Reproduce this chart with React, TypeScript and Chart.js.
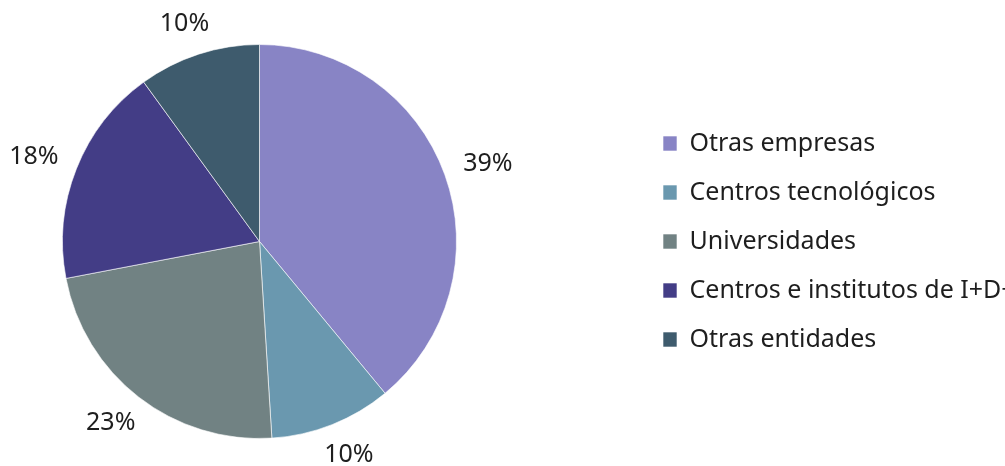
import React, { useEffect, useRef } from "react";
import { Chart, registerables } from "chart.js";

Chart.register(...registerables);

const categories = [
  "Otras empresas",
  "Centros tecnológicos",
  "Universidades",
  "Centros e institutos de I+D+i",
  "Otras entidades",
];
const shares = [39, 10, 23, 18, 10];
const sliceColors = ["#8884C5", "#6A98AF", "#718283", "#433D86", "#3E5B6D"];

const FONT = '"Noto Sans", "Open Sans", sans-serif';
const TEXT_COLOR = "#1e1e1e";

const outsideLabels = {
  id: "outsideLabels",
  afterDatasetsDraw(chart: any) {
    const ctx = chart.ctx;
    const meta = chart.getDatasetMeta(0);
    const data = chart.data.datasets[0].data as number[];
    ctx.save();
    ctx.font = `25px ${FONT}`;
    ctx.fillStyle = TEXT_COLOR;
    ctx.textAlign = "center";
    ctx.textBaseline = "middle";
    meta.data.forEach((arc: any, i: number) => {
      const { startAngle, endAngle, outerRadius, x, y } = arc.getProps(
        ["startAngle", "endAngle", "outerRadius", "x", "y"],
        true
      );
      const a = (startAngle + endAngle) / 2;
      const ux = Math.cos(a);
      const uy = Math.sin(a);
      const text = `${data[i]}%`;
      const w = ctx.measureText(text).width;
      const h = 22;
      const d = 21;
      const px = x + (outerRadius + d) * ux + (ux * w) / 2;
      const py = y + (outerRadius + d) * uy + (uy * h) / 2;
      ctx.fillText(text, px, py);
    });
    ctx.restore();
  },
};

export default function App() {
  const canvasRef = useRef<HTMLCanvasElement | null>(null);

  useEffect(() => {
    if (!canvasRef.current) return;
    const chart = new Chart(canvasRef.current, {
      type: "pie",
      data: {
        labels: categories,
        datasets: [
          {
            data: shares,
            backgroundColor: sliceColors,
            borderColor: "rgba(255,255,255,0.6)",
            borderWidth: 1,
            radius: 197,
          },
        ],
      },
      options: {
        responsive: false,
        animation: false,
        layout: { padding: { top: 17, bottom: 0, left: 0, right: 0 } },
        plugins: {
          tooltip: { enabled: false },
          legend: {
            position: "right",
            maxWidth: 372,
            labels: {
              boxWidth: 14,
              boxHeight: 15,
              padding: 24,
              color: TEXT_COLOR,
              font: { family: FONT, size: 25 },
            },
          },
        },
      },
      plugins: [outsideLabels],
    });
    return () => chart.destroy();
  }, []);

  return (
    <div
      style={{
        position: "fixed",
        left: 0,
        top: 0,
        width: 1005,
        height: 466,
        overflow: "hidden",
        background: "#fff",
      }}
    >
      <canvas
        ref={canvasRef}
        width={1131}
        height={466}
        style={{ position: "absolute", left: -120, top: 0, width: 1131, height: 466 }}
      />
    </div>
  );
}
